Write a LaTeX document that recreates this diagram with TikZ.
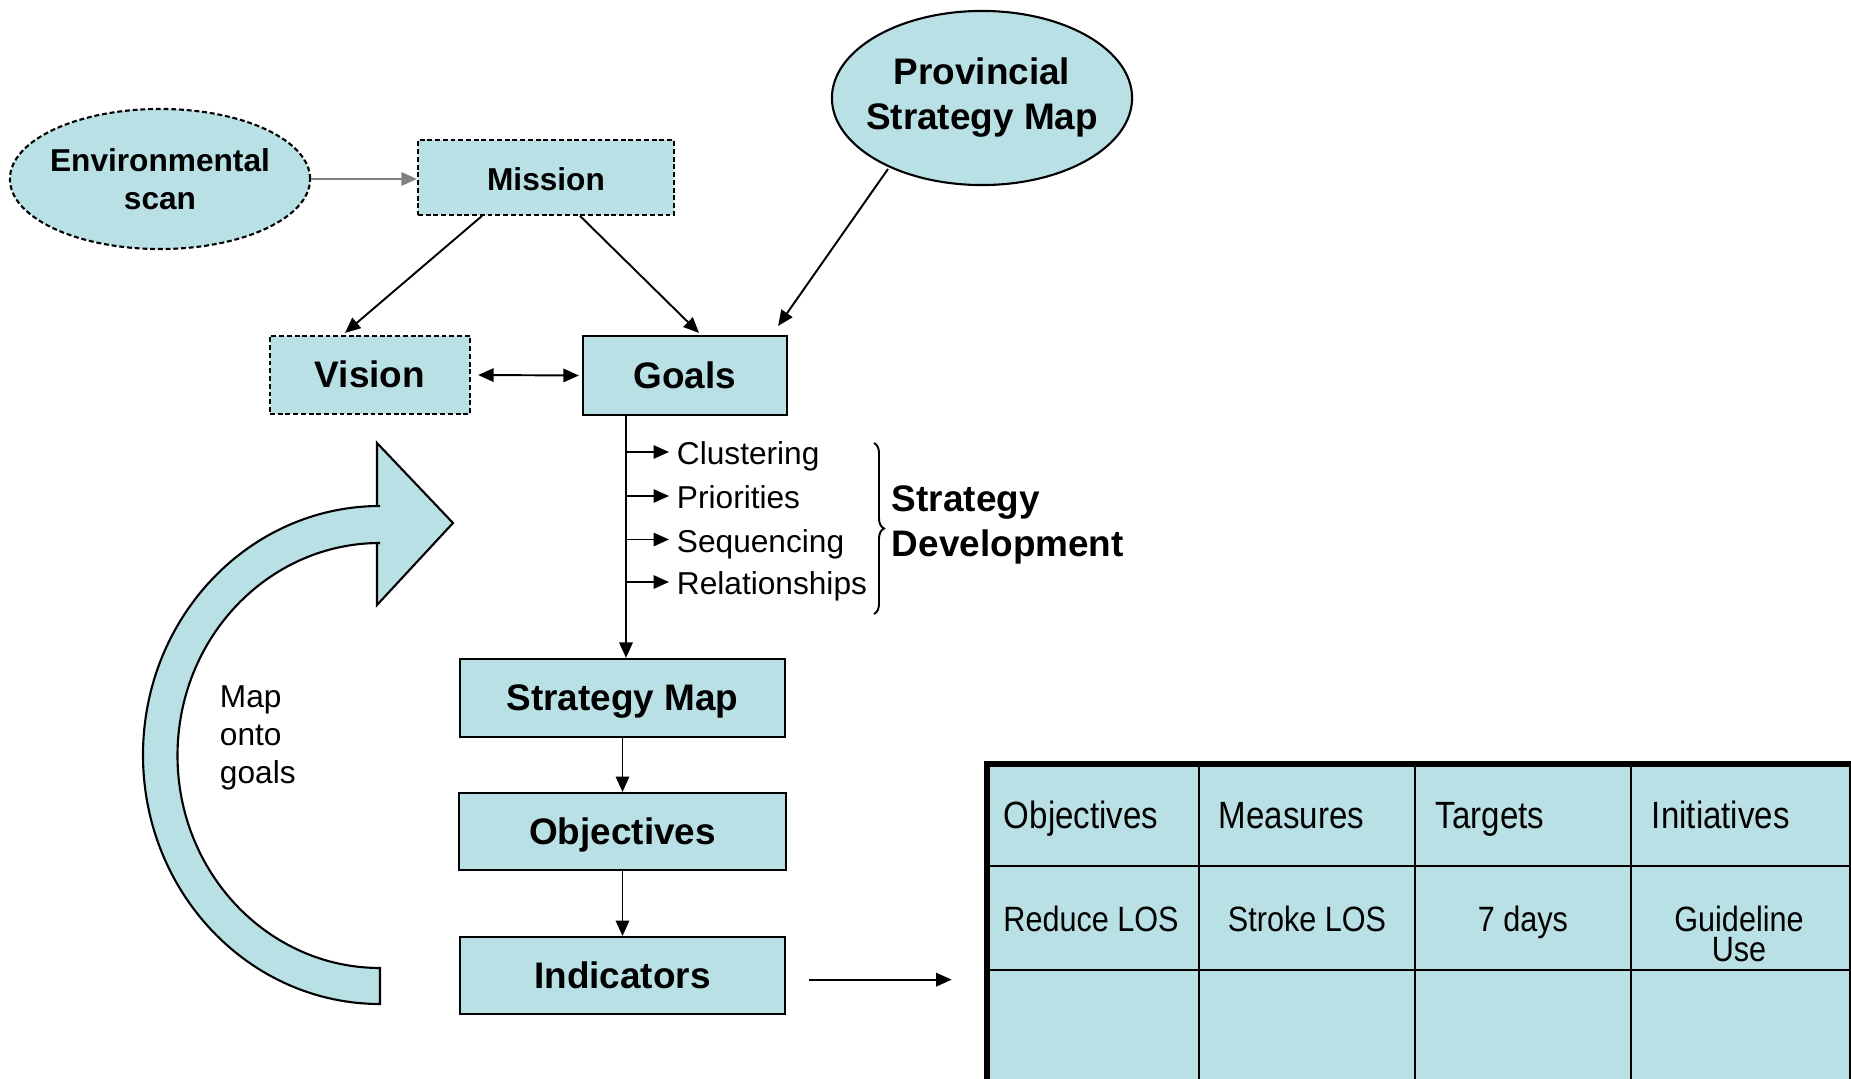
\documentclass[tikz,border=0pt]{standalone}
\usepackage{fontspec}
\setmainfont{Liberation Sans}
\newfontfamily\narrowfont[FakeStretch=0.87]{Liberation Sans}
\usetikzlibrary{arrows.meta,positioning,calc,shapes.geometric,decorations.pathreplacing}
\definecolor{boxfill}{RGB}{185,224,228}

\begin{document}
\begin{tikzpicture}[x=0.01cm, y=0.01cm, >={Triangle[length=4.4pt,width=3.8pt]}, on grid, line width=0.55pt,
  box/.style={draw, fill=boxfill, line width=0.6pt, inner sep=0pt, text height=0.716em, text depth=0pt,
              font=\bfseries\fontsize{10.5}{12.6}\selectfont},
  dashbox/.style={box, dash pattern=on 1.4pt off 0.8pt},
  bubble/.style={draw, fill=boxfill, line width=0.6pt, ellipse, align=center},
  item/.style={anchor=west, inner sep=0pt, inner xsep=0.07cm, text height=0.716em, text depth=0pt,
               font=\fontsize{9}{10.8}\selectfont},
  cell/.style={inner sep=0pt, font=\narrowfont\fontsize{10}{8.6}\selectfont, align=center},
  head/.style={anchor=west, inner sep=0pt, text height=0.716em, text depth=0pt,
               font=\narrowfont\fontsize{10.8}{13}\selectfont}]
  \useasboundingbox (0,0) rectangle (1851,-1079);

  \node[bubble, dash pattern=on 1.4pt off 0.8pt, minimum width=3cm, minimum height=1.4cm, inner xsep=-0.05cm,
        font=\bfseries\fontsize{9}{10.8}\selectfont] (env_scan) at (160,-179) {Environmental\\scan};
  \node[dashbox, minimum width=2.56cm, minimum height=0.745cm, font=\bfseries\fontsize{9}{10.8}\selectfont] (mission) at (546,-177.6) {Mission};
  \node[bubble, minimum width=3cm, minimum height=1.74cm, inner xsep=-0.1cm,
        font=\bfseries\fontsize{10.5}{12.8}\selectfont] (provincial) at (982,-98) {Provincial\\Strategy Map};
  \node[dashbox, minimum width=2cm, minimum height=0.78cm] (vision) at (370,-375) {Vision};
  \node[box, minimum width=2.04cm, minimum height=0.79cm] (goals) at (685,-375.5) {Goals};
  \node[box, minimum width=3.25cm, minimum height=0.78cm] (strategy_map) at (622.5,-698) {Strategy Map};
  \node[box, minimum width=3.26cm, minimum height=0.77cm] (objectives) [below=1.335cm of strategy_map] {Objectives};
  \node[box, minimum width=3.24cm, minimum height=0.77cm] (indicators) [below=1.44cm of objectives] {Indicators};

  \draw[->, gray, line width=0.6pt] (env_scan.east) -- (mission.west |- env_scan.east);
  \draw[->] ($(mission.south)+(-64,0)$) -- ($(vision.north)+(-25,2)$);
  \draw[->] ($(mission.south)+(34,0)$) -- ($(goals.north)+(14,2)$);
  \draw[->] ($(provincial)+(-94,-71)$) -- ($(goals.north east)+(-10,9)$);
  \draw[<->] ($(vision.east)+(7,0)$) -- ($(goals.west)+(-3,0)$);

  % strategy development steps
  \draw[->] ($(goals.south)+(-59,0)$) coordinate (trunk) -- (trunk |- strategy_map.north);
  \foreach \name/\txt/\y in {clustering/Clustering/452, priorities/Priorities/496,
                             sequencing/Sequencing/539.5, relationships/Relationships/582} {
    \node[item] (\name) at (669,-\y) {\txt};
    \draw[->] (trunk |- \name) -- (\name.west);
  }
  \draw[decorate, decoration={brace, amplitude=0.1cm}] (874,-443) -- (874,-614);
  \node[anchor=west, align=left, inner sep=0pt, font=\bfseries\fontsize{10.5}{12.6}\selectfont]
       (strategy_dev) at (891,-525) {Strategy\\Development};

  \draw[->] (strategy_map) -- (objectives);
  \draw[->] (objectives) -- (indicators);

  % feedback arrow
  \draw[fill=boxfill, line width=0.6pt] (380,-1004) arc[start angle=270, end angle=90, x radius=237, y radius=249]
    -- (377,-506) -- (377,-443) -- (453,-523) -- (377,-605) -- (377,-543) -- (380,-543)
    arc[start angle=90, end angle=270, x radius=202.5, y radius=212.5] -- cycle;
  \node[anchor=west, align=left, inner sep=0pt, font=\fontsize{9}{10.75}\selectfont] (map_note) at (219,-738) {Map\\onto\\goals};

  % scorecard table
  \node[draw, fill=boxfill, line width=1.7pt, anchor=north west, inner sep=0pt,
        minimum width=8.65cm, minimum height=3.3cm] (bsc_table) at (983.7,-761) {};
  \foreach \x in {1199,1415,1631}
    \draw[line width=0.6pt] (\x,-761) -- (\x,-1090);
  \foreach \y in {866,970}
    \draw[line width=0.6pt] (983.7,-\y) -- (1848.7,-\y);
  \foreach \name/\txt/\x in {hd_obj/Objectives/1003, hd_meas/Measures/1218, hd_targ/Targets/1435, hd_init/Initiatives/1651}
    \node[head] (\name) at (\x,-816) {\txt};
  \foreach \name/\txt/\x in {c_obj/Reduce LOS/1091, c_meas/Stroke LOS/1307, c_targ/7 days/1523, c_init/Guideline\\Use/1739}
    \node[cell, anchor=north] (\name) at (\x,-905) {\txt};

  \draw[->] ($(indicators.east)+(23,-4)$) -- ($(bsc_table.west |- indicators.east)+(-32,-4)$);
\end{tikzpicture}
\end{document}
